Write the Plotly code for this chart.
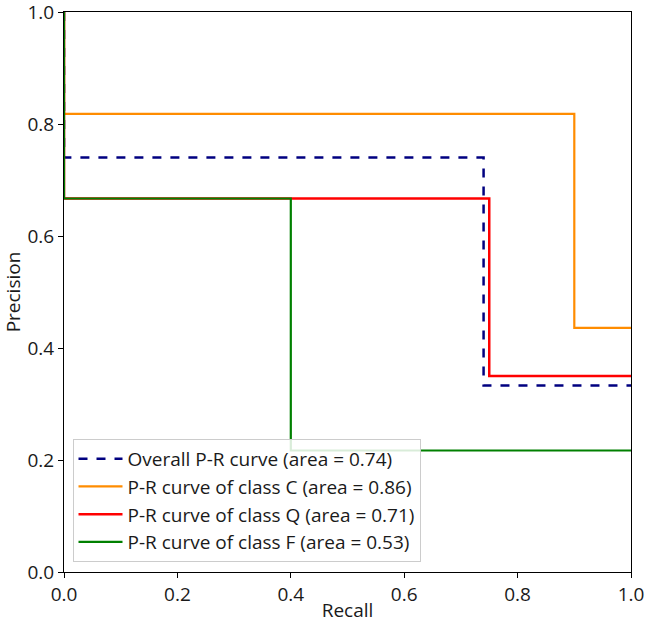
import plotly.graph_objects as go

# Step P-R curves (recall, precision vertices)
overall_recall = [0, 0, 0.74, 0.74, 1.0]
overall_precision = [1.0, 0.74, 0.74, 0.333, 0.333]

c_recall = [0, 0, 0.9, 0.9, 1.0]
c_precision = [1.0, 0.818, 0.818, 0.436, 0.436]

q_recall = [0, 0, 0.75, 0.75, 1.0]
q_precision = [1.0, 0.667, 0.667, 0.35, 0.35]

f_recall = [0, 0, 0.4, 0.4, 1.0]
f_precision = [1.0, 0.667, 0.667, 0.217, 0.217]

names = [
    "Overall P-R curve (area = 0.74)",
    "P-R curve of class C (area = 0.86)",
    "P-R curve of class Q (area = 0.71)",
    "P-R curve of class F (area = 0.53)",
]
tick_vals = [0.0, 0.2, 0.4, 0.6, 0.8, 1.0]
tick_text = ["0.0", "0.2", "0.4", "0.6", "0.8", "1.0"]

FONT = "Open Sans"
FS = 19
fig = go.Figure()
fig.add_trace(go.Scatter(x=overall_recall, y=overall_precision, mode="lines", name=names[0],
                         legendgroup="a", line=dict(color="#000080", width=2.5, dash="dash")))
fig.add_trace(go.Scatter(x=c_recall, y=c_precision, mode="lines", name=names[1],
                         legendgroup="b", line=dict(color="#FF8C00", width=2.2)))
fig.add_trace(go.Scatter(x=q_recall, y=q_precision, mode="lines", name=names[2],
                         legendgroup="c", line=dict(color="#FF0000", width=2.5)))
fig.add_trace(go.Scatter(x=f_recall, y=f_precision, mode="lines", name=names[3],
                         legendgroup="d", line=dict(color="#008000", width=2.2)))

axis_common = dict(
    range=[0, 1], tickvals=tick_vals, ticktext=tick_text,
    ticks="outside", ticklen=5, tickwidth=1, tickcolor="black",
    showline=True, linecolor="black", linewidth=1, mirror=True,
    showgrid=False, zeroline=False, automargin=False,
    ticklabeloverflow="allow",
    tickfont=dict(family=FONT, size=FS, color="#1a1a1a"),
    title_font=dict(family=FONT, size=FS, color="#1a1a1a"),
)

fig.update_layout(
    width=645, height=623,
    margin=dict(l=64, r=14, t=12, b=51),
    paper_bgcolor="white", plot_bgcolor="white",
    xaxis=dict(title=dict(text="Recall", standoff=4), **axis_common),
    yaxis=dict(title=dict(text="Precision", standoff=6), **axis_common),
    legend=dict(x=0.015, y=0.018, xanchor="left", yanchor="bottom",
                bgcolor="rgba(255,255,255,0.85)", bordercolor="#cccccc", borderwidth=1,
                font=dict(family=FONT, size=FS, color="#1a1a1a"),
                tracegroupgap=0, itemwidth=44),
    showlegend=True,
)

fig.write_html("out.html", config={"displayModeBar": False},
               post_script="document.body.style.margin='0';document.body.style.padding='0';")
